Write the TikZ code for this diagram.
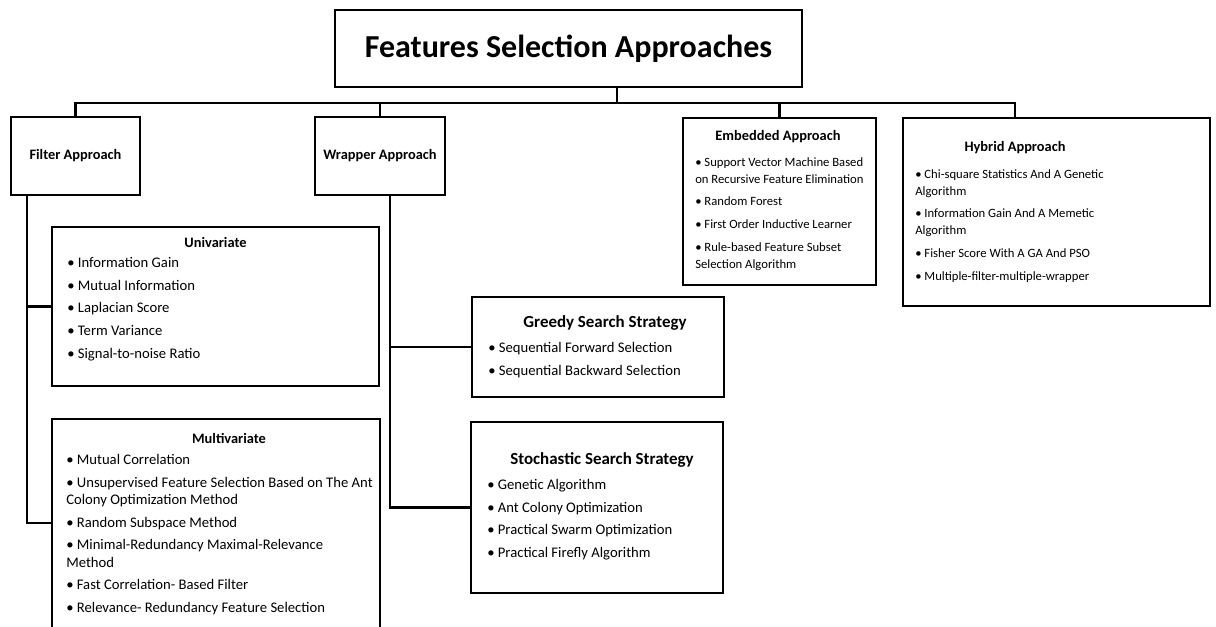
\documentclass[tikz,border=0pt]{standalone}
\usepackage{fontspec}
\setmainfont{Carlito}
\usetikzlibrary{positioning}
\newlength\pxu
\setlength\pxu{0.75pt}
\tikzset{
  box/.style={draw, line width=2pt, inner sep=0pt},
  head/.style={font=\fontsize{10.8}{13}\selectfont\bfseries, inner sep=0pt},
  bighead/.style={font=\fontsize{12.7}{15}\selectfont\bfseries, inner sep=0pt},
  items/.style={font=\fontsize{11}{13}\selectfont, align=left, anchor=north west, inner sep=0pt},
  smallitems/.style={font=\fontsize{9.5}{12.75}\selectfont, align=left, anchor=north west, inner sep=0pt},
  link/.style={line width=2pt},
}

\begin{document}
\begin{tikzpicture}[x=0.75pt,y=-0.75pt]
    \useasboundingbox (0,0) rectangle (1216,626);
    \clip (0,0) rectangle (1216,626);
    % boxes
    \node[box, minimum width=467\pxu, minimum height=77\pxu, font=\fontsize{24}{28}\selectfont\bfseries] (fsa) at (568.5,48.5) {Features Selection Approaches};
    \node[box, head, minimum width=129\pxu, minimum height=78\pxu] (filter) at (75.5,156) {Filter Approach};
    \node[box, head, minimum width=130\pxu, minimum height=78\pxu] (wrapper) at (380,156) {Wrapper Approach};
    \node[box, minimum width=193\pxu, minimum height=167\pxu] (embedded) at (779.5,201.5) {};
    \node[box, minimum width=307\pxu, minimum height=188\pxu] (hybrid) at (1056.5,212) {};
    \node[box, minimum width=327\pxu, minimum height=159\pxu] (univ) at (215.5,306.5) {};
    \node[box, minimum width=328\pxu, minimum height=240\pxu] (multi) at (216,539) {};
    \node[box, minimum width=252\pxu, minimum height=100\pxu] (greedy) at (598,347) {};
    \node[box, minimum width=252\pxu, minimum height=171\pxu] (stoch) at (597,507.5) {};
    % headings
    \node[head] (embeddedhd) at (778,137) {Embedded Approach};
    \node[head] (hybridhd) at (1015,148) {Hybrid Approach};
    \node[head] (univhd) at (215.5,242) {Univariate};
    \node[head] (multihd) at (229,438) {Multivariate};
    \node[bighead] (greedyhd) at (605,323) {Greedy Search Strategy};
    \node[bighead] (stochhd) at (602,460) {Stochastic Search Strategy};
    % lists
    \node[smallitems] (embeddedls) at (695,157) {\textbullet\ Support Vector Machine Based\\on Recursive Feature Elimination\\[4.25pt]\textbullet\ Random Forest\\[4.25pt]\textbullet\ First Order Inductive Learner\\[4.25pt]\textbullet\ Rule-based Feature Subset\\Selection Algorithm};
    \node[smallitems] (hybridls) at (915,169) {\textbullet\ Chi-square Statistics And A Genetic\\Algorithm\\[4.25pt]\textbullet\ Information Gain And A Memetic\\Algorithm\\[4.25pt]\textbullet\ Fisher Score With A GA And PSO\\[4.25pt]\textbullet\ Multiple-filter-multiple-wrapper};
    \node[items] (univls) at (67,257) {\textbullet\ Information Gain\\[4pt]\textbullet\ Mutual Information\\[4pt]\textbullet\ Laplacian Score\\[4pt]\textbullet\ Term Variance\\[4pt]\textbullet\ Signal-to-noise Ratio};
    \node[items] (multils) at (66,454) {\textbullet\ Mutual Correlation\\[4pt]\textbullet\ Unsupervised Feature Selection Based on The Ant\\Colony Optimization Method\\[4pt]\textbullet\ Random Subspace Method\\[4pt]\textbullet\ Minimal-Redundancy Maximal-Relevance\\Method\\[4pt]\textbullet\ Fast Correlation- Based Filter\\[4pt]\textbullet\ Relevance- Redundancy Feature Selection};
    \node[items] (greedyls) at (488,342) {\textbullet\ Sequential Forward Selection\\[4pt]\textbullet\ Sequential Backward Selection};
    \node[items] (stochls) at (487,479) {\textbullet\ Genetic Algorithm\\[4pt]\textbullet\ Ant Colony Optimization\\[4pt]\textbullet\ Practical Swarm Optimization\\[4pt]\textbullet\ Practical Firefly Algorithm};
    % connectors
    \coordinate (bus) at (617,103);
    \coordinate (hstem) at (1015,103);
    \coordinate (fend) at (27,523);
    \coordinate (wend) at (390,507.5);
    \draw[link] (fsa.south -| bus) -- (bus);
    \draw[link] (filter.north) |- (hstem) -- (hstem |- hybrid.north);
    \draw[link] (wrapper.north) -- (wrapper.north |- bus);
    \draw[link] (embedded.north) -- (embedded.north |- bus);
    \draw[link] (filter.south -| fend) -- (fend) -- (fend -| multi.west);
    \draw[link] (univ.west -| fend) -- (univ.west);
    \draw[link] (wrapper.south -| wend) -- (wend |- stoch.west) -- (stoch.west);
    \draw[link] (greedy.west -| wend) -- (greedy.west);
\end{tikzpicture}
\end{document}
